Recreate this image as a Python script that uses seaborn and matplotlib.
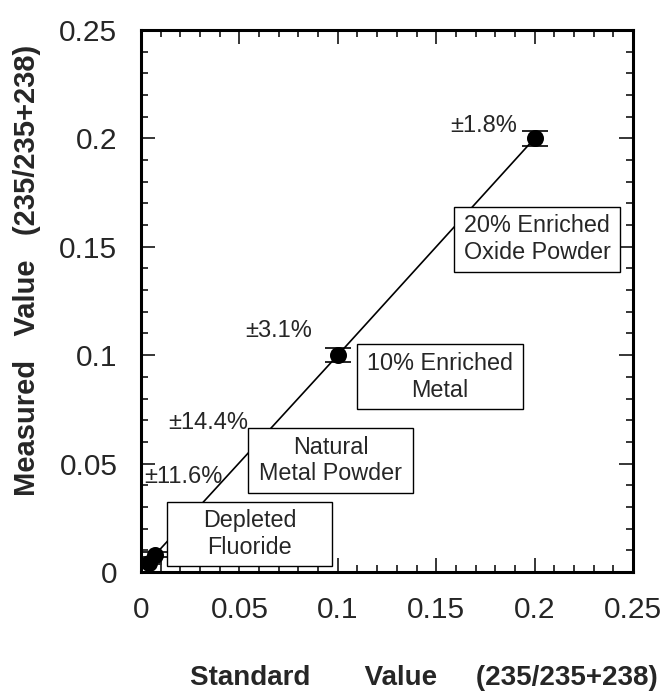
import matplotlib
matplotlib.use("Agg")
import matplotlib.pyplot as plt
import seaborn as sns
import pandas as pd
from matplotlib.patches import Rectangle
from matplotlib.ticker import MultipleLocator, FuncFormatter

# Uranium isotope ratio standards: certified vs. measured 235/(235+238)
samples = ["Depleted\nFluoride", "Natural\nMetal Powder",
           "10% Enriched\nMetal", "20% Enriched\nOxide Powder"]
standard_value = [0.0042, 0.0072, 0.1, 0.2]
measured_value = [0.0042, 0.0080, 0.1, 0.2]
uncertainty_pct = [11.6, 14.4, 3.1, 1.8]

df = pd.DataFrame({"standard": standard_value,
                   "measured": measured_value,
                   "pct": uncertainty_pct,
                   "sample": samples})
df["err"] = df["measured"] * df["pct"] / 100.0

# label placement (data coordinates)
pct_label_xy = [(0.0417, 0.0440), (0.0544, 0.0688), (0.0869, 0.1110), (0.1910, 0.2058)]
box_extent = [(0.0132, 0.0028, 0.0839, 0.0296),
              (0.0544, 0.0366, 0.0838, 0.0296),
              (0.1098, 0.0750, 0.0843, 0.0301),
              (0.1590, 0.1384, 0.0844, 0.0301)]

sns.set_style("ticks")
plt.rcParams["font.family"] = ["Liberation Sans", "DejaVu Sans"]

fig = plt.figure(figsize=(6.67, 7.0), dpi=100)
ax = fig.add_axes([0.2114, 0.1829, 0.7376, 0.7743])

sns.lineplot(data=df, x="standard", y="measured", color="black",
             linewidth=1.2, ax=ax, sort=True, legend=False)
ax.errorbar(df["standard"], df["measured"], yerr=df["err"], fmt="none",
            ecolor="black", elinewidth=1.2, capsize=9.5, capthick=1.2, zorder=3)
sns.scatterplot(data=df, x="standard", y="measured", color="black", s=150,
                edgecolor="black", linewidth=0, ax=ax, zorder=4, legend=False,
                clip_on=False)

for (tx, ty), pct in zip(pct_label_xy, df["pct"]):
    ax.text(tx, ty, f"\u00b1{pct}%", ha="right", va="center", fontsize=17)

for (bx, by, bw, bh), name in zip(box_extent, df["sample"]):
    ax.add_patch(Rectangle((bx, by), bw, bh, fill=True, facecolor="white",
                           edgecolor="black", linewidth=1.0, zorder=5))
    ax.text(bx + bw / 2, by + bh / 2, name, ha="center", va="center",
            fontsize=16.8, linespacing=1.2, zorder=6)

ax.set_xlim(0, 0.25)
ax.set_ylim(0, 0.25)
ax.xaxis.set_major_locator(MultipleLocator(0.05))
ax.yaxis.set_major_locator(MultipleLocator(0.05))
ax.xaxis.set_minor_locator(MultipleLocator(0.01))
ax.yaxis.set_minor_locator(MultipleLocator(0.01))
ax.xaxis.set_major_formatter(FuncFormatter(lambda v, p: f"{v:g}"))
ax.yaxis.set_major_formatter(FuncFormatter(lambda v, p: f"{v:g}"))
ax.tick_params(which="both", direction="in", top=True, right=True,
               color="black", width=1.1)
ax.tick_params(which="major", length=10, pad=17, labelsize=21.5)
ax.tick_params(which="minor", length=5)
for sp in ax.spines.values():
    sp.set_linewidth(2.2)
    sp.set_color("black")

ax.set_xlabel("Standard       Value     (235/235+238)", fontsize=20, fontweight="bold")
ax.set_ylabel("Measured   Value   (235/235+238)", fontsize=21, fontweight="bold")
ax.xaxis.set_label_coords(0.575, -0.172)
ax.yaxis.set_label_coords(-0.203, 0.557)

fig.savefig("out.png", dpi=100, facecolor="white")
